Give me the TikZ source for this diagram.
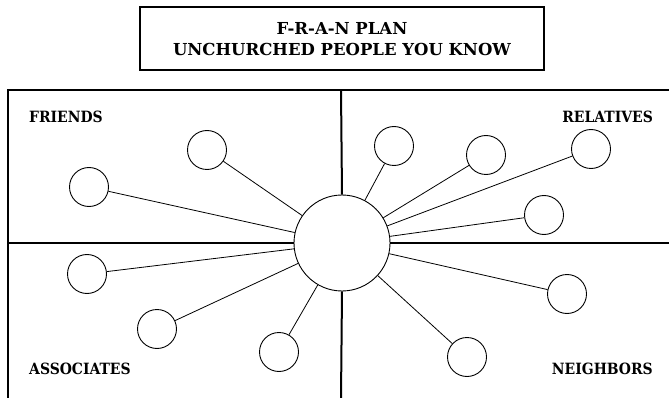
\documentclass[tikz,border=0pt]{standalone}
\usepackage{fontspec}
\setmainfont{DejaVu Serif Condensed}
\newfontfamily\headfont{DejaVu Serif}
\usepackage{tikz}
\usetikzlibrary{positioning}
\tikzset{
  titlebox/.style={draw, line width=2pt, minimum width=404pt, minimum height=63pt,
    align=center, inner sep=0pt, font=\headfont\bfseries\fontsize{16.5}{20.5}\selectfont},
  hub/.style={circle, draw, line width=0.9pt, minimum size=96pt, inner sep=0pt},
  pal/.style={circle, draw, line width=0.9pt, minimum size=39pt, inner sep=0pt},
  spoke/.style={line width=0.8pt},
  divider/.style={line width=2pt},
  quadlbl/.style={font=\bfseries\fontsize{15.5}{17}\selectfont, inner sep=0pt},
}

\begin{document}
\begin{tikzpicture}[x=1pt,y=-1pt]
\useasboundingbox (0,0) rectangle (669,398);

\node[titlebox] (title) at (342,39) {F-R-A-N PLAN\\UNCHURCHED PEOPLE YOU KNOW};

% frame and quadrant dividers
\coordinate (tl) at (8,90);
\coordinate (tr) at (669,90);
\coordinate (bl) at (8,398);
\coordinate (vtop) at (341,90);
\coordinate (vbot) at (341,398);
\coordinate (hleft) at (8,243);
\coordinate (hright) at (669,243);

\node[hub] (hub) at (342,243) {};

\draw[divider] (bl) -- (tl) -- (tr);
\draw[divider] (vtop) -- (hub.north);
\draw[divider] (hub.south) -- (vbot);
\draw[divider] (hleft) -- (hub.west);
\draw[divider] (hub.east) -- (hright);

\node[quadlbl, anchor=base west] (friends) at (29,123) {FRIENDS};
\node[quadlbl, anchor=base east] (relatives) at (653,123) {RELATIVES};
\node[quadlbl, anchor=base west] (associates) at (29,374) {ASSOCIATES};
\node[quadlbl, anchor=base east] (neighbors) at (653,374) {NEIGHBORS};

% friends
\node[pal] (fr1) at (207,150) {};
\node[pal] (fr2) at (89,187) {};
% relatives
\node[pal] (rel1) at (394,146) {};
\node[pal] (rel2) at (486,155) {};
\node[pal] (rel3) at (591,149) {};
\node[pal] (rel4) at (544,215) {};
% associates
\node[pal] (as1) at (87,274) {};
\node[pal] (as2) at (157,329) {};
\node[pal] (as3) at (279,352) {};
% neighbors
\node[pal] (nb1) at (567,294) {};
\node[pal] (nb2) at (467,357) {};

\foreach \p in {fr1,fr2,rel1,rel2,rel3,rel4,as1,as2,as3,nb1,nb2}
  \draw[spoke] (hub) -- (\p);
\end{tikzpicture}
\end{document}
